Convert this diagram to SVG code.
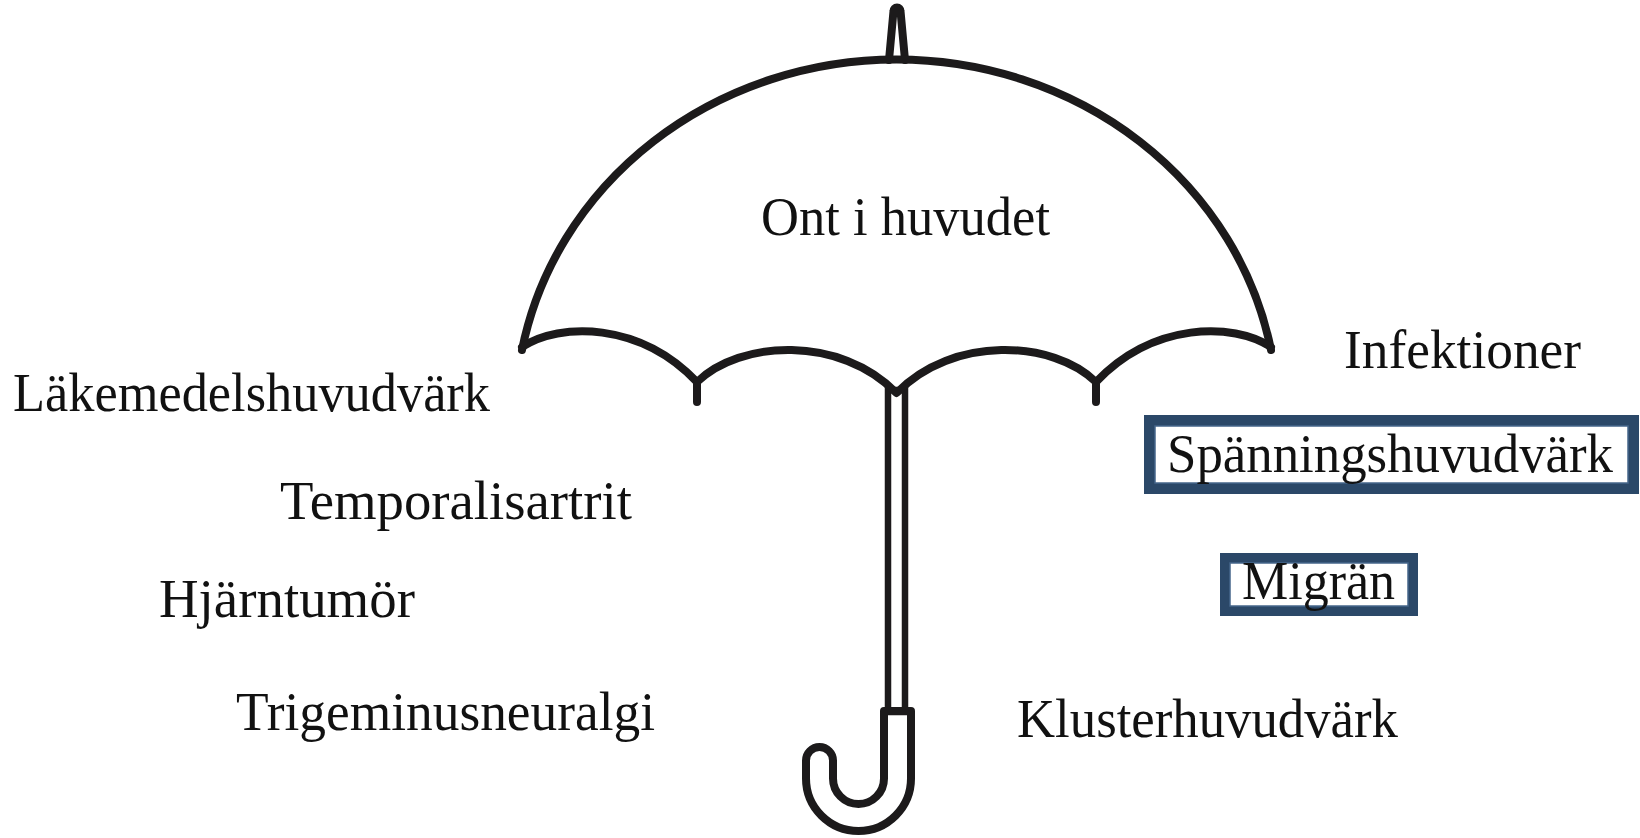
<svg xmlns="http://www.w3.org/2000/svg" width="1640" height="838" viewBox="0 0 1640 838">
  <style>
    .ink { fill: none; stroke: #1c1a1b; stroke-width: 8; stroke-linecap: round; stroke-linejoin: round; }
    .label { font-family: "Liberation Serif", "Times New Roman", serif; font-size: 54px; fill: #111; }
    .frame { fill: #fff; stroke: #2b4868; }
    .frame-inner { fill: none; stroke: #46668a; stroke-width: 1.5; }
  </style>
  <rect width="1640" height="838" fill="#fff"/>

  <!-- umbrella -->
  <g id="umbrella">
    <!-- shaft -->
    <rect x="888" y="390" width="17" height="322" fill="#fff" stroke="#1c1a1b" stroke-width="6.5"/>
    <!-- tip -->
    <path class="ink" d="M 889 60 L 893.5 11 A 3.5 3.5 0 0 1 900.5 11 L 905 60" stroke-width="6" fill="#fff"/>
    <!-- canopy dome -->
    <path class="ink" d="M 522 350 A 381 356 0 0 1 1271 350" fill="#fff"/>
    <!-- scalloped hem -->
    <path class="ink" d="M 522 347 C 560 322 640 322 697 382 C 740 340 840 335 896.5 393 C 953 335 1053 340 1096 382 C 1153 322 1233 322 1271 347"/>
    <!-- ribs -->
    <path class="ink" d="M 697 382 V 402 M 1096 382 V 402"/>
    <!-- handle -->
    <path class="ink" fill="#fff" d="M 884 711 H 911 V 778.5 A 52.5 52.5 0 0 1 806 778.5 V 760.5 A 13.5 13.5 0 0 1 833 760.5 V 778.5 A 25.5 25.5 0 0 0 884 778.5 Z"/>
  </g>

  <g id="title">
    <text class="label" x="761" y="235" textLength="289" lengthAdjust="spacingAndGlyphs">Ont i huvudet</text>
  </g>

  <g id="lakemedelshuvudvark">
    <text class="label" x="13" y="411" textLength="477" lengthAdjust="spacingAndGlyphs">Läkemedelshuvudvärk</text>
  </g>
  <g id="temporalisartrit">
    <text class="label" x="280" y="519" textLength="352" lengthAdjust="spacingAndGlyphs">Temporalisartrit</text>
  </g>
  <g id="hjarntumor">
    <text class="label" x="159" y="617" textLength="256" lengthAdjust="spacingAndGlyphs">Hjärntumör</text>
  </g>
  <g id="trigeminusneuralgi">
    <text class="label" x="236" y="730" textLength="419" lengthAdjust="spacingAndGlyphs">Trigeminusneuralgi</text>
  </g>

  <g id="infektioner">
    <text class="label" x="1344" y="368" textLength="237" lengthAdjust="spacingAndGlyphs">Infektioner</text>
  </g>
  <g id="spanningshuvudvark">
    <rect class="frame" x="1149.5" y="420.5" width="484" height="68" stroke-width="11"/>
    <rect class="frame-inner" x="1155" y="426" width="473" height="57"/>
    <text class="label" x="1167" y="472" textLength="446" lengthAdjust="spacingAndGlyphs">Spänningshuvudvärk</text>
  </g>
  <g id="migran">
    <rect class="frame" x="1225" y="558" width="188" height="53" stroke-width="10"/>
    <rect class="frame-inner" x="1230" y="563" width="178" height="43"/>
    <text class="label" x="1242" y="599" textLength="153" lengthAdjust="spacingAndGlyphs">Migrän</text>
  </g>
  <g id="klusterhuvudvark">
    <text class="label" x="1017" y="737" textLength="381" lengthAdjust="spacingAndGlyphs">Klusterhuvudvärk</text>
  </g>
</svg>
